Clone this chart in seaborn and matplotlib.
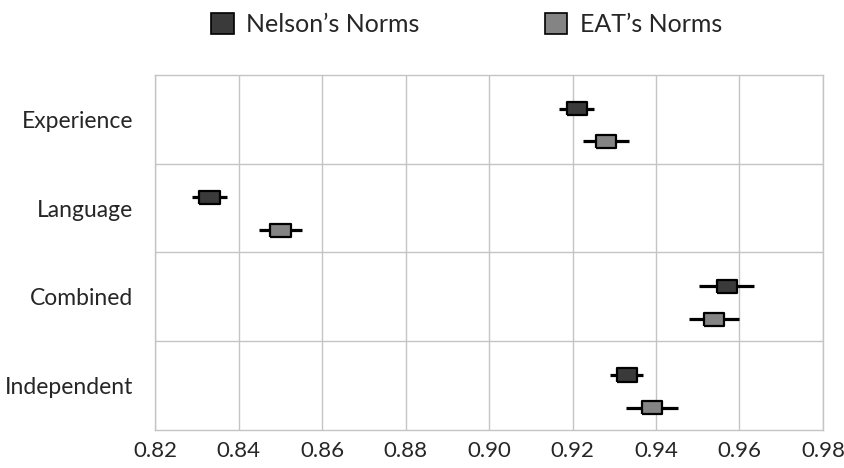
import numpy as np
import pandas as pd
import matplotlib
matplotlib.use("Agg")
import matplotlib.pyplot as plt
from matplotlib.patches import Patch
import seaborn as sns

conditions = ["Experience", "Language", "Combined", "Independent"]
nelson_mean = [0.921, 0.833, 0.957, 0.933]
nelson_err = [0.0042, 0.0043, 0.0066, 0.0040]
eat_mean = [0.928, 0.850, 0.954, 0.939]
eat_err = [0.0056, 0.0051, 0.0060, 0.0062]
series = ["Nelson\u2019s Norms", "EAT\u2019s Norms"]
xticks = [0.82, 0.84, 0.86, 0.88, 0.90, 0.92, 0.94, 0.96, 0.98]

colors = {series[0]: "#3a3a3a", series[1]: "#848484"}
offsets = {series[0]: -0.12, series[1]: 0.25}

rows = []
for i, c in enumerate(conditions):
    rows.append((c, series[0], nelson_mean[i], nelson_err[i], i + offsets[series[0]]))
    rows.append((c, series[1], eat_mean[i], eat_err[i], i + offsets[series[1]]))
df = pd.DataFrame(rows, columns=["condition", "norms", "value", "err", "ypos"])

sns.set_style("white")
plt.rcParams["font.family"] = ["Lato", "DejaVu Sans"]

fig = plt.figure(figsize=(8.44, 4.68), dpi=100)
ax = fig.add_axes([0.184, 0.081, 0.791, 0.759])

# error bars first, markers on top
for _, r in df.iterrows():
    ax.errorbar(r["value"], r["ypos"], xerr=r["err"], fmt="none",
                ecolor="black", elinewidth=2.3, capsize=0, zorder=3)

rect = [(-1, -0.65), (1, -0.65), (1, 0.65), (-1, 0.65), (-1, -0.65)]
sns.scatterplot(data=df, x="value", y="ypos", hue="norms", palette=colors,
                marker=rect, s=210, edgecolor="black", linewidth=1.6,
                legend=False, zorder=4, ax=ax)

ax.set_xlim(0.82, 0.98)
ax.set_ylim(3.5, -0.5)
ax.set_xticks(xticks)
ax.set_xticklabels([f"{t:.2f}" for t in xticks], fontsize=16)
ax.set_yticks(range(len(conditions)))
ax.set_yticklabels(conditions, fontsize=16.5)
ax.set_yticks([0.5, 1.5, 2.5], minor=True)
ax.tick_params(axis="y", which="both", length=0, pad=16)
ax.tick_params(axis="x", which="both", length=0, pad=8)
ax.grid(True, axis="x", color="#c4c4c4", linewidth=1)
ax.grid(True, axis="y", which="minor", color="#c4c4c4", linewidth=1)
ax.set_xlabel("")
ax.set_ylabel("")
for s in ax.spines.values():
    s.set_color("#c4c4c4")
    s.set_linewidth(1)

handles = [Patch(facecolor=colors[s], edgecolor="black", linewidth=1.2, label=s)
           for s in series]
fig.legend(handles=handles, loc="upper center", bbox_to_anchor=(0.553, 1.02),
           ncol=2, frameon=False, fontsize=18, handlelength=0.9,
           handleheight=0.9, columnspacing=5.0, handletextpad=0.5)

fig.savefig("out.png", dpi=100)
